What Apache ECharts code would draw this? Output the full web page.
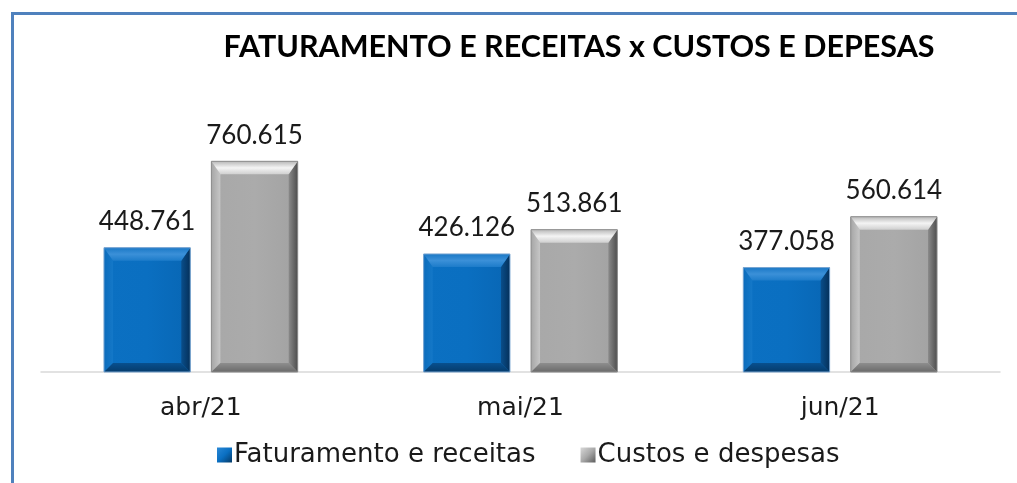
<!DOCTYPE html>
<html>
<head>
<meta charset="utf-8">
<script src="https://cdn.jsdelivr.net/npm/echarts@6/dist/echarts.min.js"></script>
<style>
  html, body { margin: 0; padding: 0; background: #fff; }
  #chart { width: 1017px; height: 483px; }
</style>
</head>
<body>
<div id="chart"></div>
<script>
// dados do gráfico
const meses = ['abr/21', 'mai/21', 'jun/21'];
const faturamento = [448761, 426126, 377058];
const custos = [760615, 513861, 560614];
const nomesSeries = ['Faturamento e receitas', 'Custos e despesas'];

const FONT = 'Lato';
const FONT_LARGA = 'DejaVu Sans';

const lin = (x0, y0, x1, y1, stops) =>
  new echarts.graphic.LinearGradient(x0, y0, x1, y1, stops.map((c, k) => ({ offset: k / (stops.length - 1), color: c })));

// cores do efeito chanfrado
const paletas = [
  {
    face: lin(0, 0, 1, 0, ['#0b70c2', '#0a6fc1', '#0866b4']),
    top: lin(0, 0, 0, 1, ['#1a78c6', '#3b90d8', '#1d7cca']),
    left: lin(0, 0, 1, 0, ['#0b6cbc', '#1478c8']),
    right: lin(0, 0, 1, 0, ['#0a4e8a', '#04305a']),
    bottom: lin(0, 0, 0, 1, ['#08508f', '#053b6b']),
    stroke: '#7aa6d2'
  },
  {
    face: lin(0, 0, 1, 0, ['#a8a8a8', '#ababab', '#a2a2a2']),
    top: lin(0, 0, 0, 1, ['#b8b8b8', '#f4f4f4', '#cfcfcf']),
    left: lin(0, 0, 1, 0, ['#a6a6a6', '#c6c6c6']),
    right: lin(0, 0, 1, 0, ['#8a8a8a', '#4e4e4e']),
    bottom: lin(0, 0, 0, 1, ['#8e8e8e', '#6a6a6a']),
    stroke: '#8c8c8c'
  }
];

function fmt(v) {
  return String(v).replace(/\B(?=(\d{3})+(?!\d))/g, '.');
}

function renderBar(params, api) {
  const i = api.value(0);
  const v = api.value(1);
  const band = api.size([1, 0])[0];
  const w = band * 0.27;
  const g = band * 0.066;
  const base = api.coord([i, 0]);
  const top = api.coord([i, v]);
  const x0 = params.seriesIndex === 0 ? base[0] - g / 2 - w : base[0] + g / 2;
  const x1 = x0 + w;
  const y0 = top[1];
  const y1 = base[1];
  const b = 9, bt = 13;
  const p = paletas[params.seriesIndex];
  const poly = (pts, fill) => ({ type: 'polygon', shape: { points: pts }, style: { fill: fill } });
  return {
    type: 'group',
    children: [
      { type: 'rect', shape: { x: x0, y: y0, width: w, height: y1 - y0 }, style: { fill: p.face } },
      poly([[x0, y0], [x0 + b, y0 + bt], [x0 + b, y1 - b], [x0, y1]], p.left),
      poly([[x1, y0], [x1, y1], [x1 - b, y1 - b], [x1 - b, y0 + bt]], p.right),
      poly([[x0, y1], [x0 + b, y1 - b], [x1 - b, y1 - b], [x1, y1]], p.bottom),
      poly([[x0, y0], [x1, y0], [x1 - b, y0 + bt], [x0 + b, y0 + bt]], p.top),
      { type: 'rect', shape: { x: x0, y: y0, width: w, height: y1 - y0 }, style: { fill: 'none', stroke: p.stroke, lineWidth: 1 } },
      {
        type: 'text',
        style: {
          text: fmt(v), x: (x0 + x1) / 2, y: y0 - 13,
          align: 'center', verticalAlign: 'bottom',
          font: '26px ' + FONT, fill: '#1a1a1a'
        }
      }
    ]
  };
}

const chart = echarts.init(document.getElementById('chart'));
chart.setOption({
  animation: false,
  title: {
    text: 'FATURAMENTO E RECEITAS x CUSTOS E DEPESAS',
    left: 574, top: 27, textAlign: 'center',
    textStyle: { fontFamily: FONT, fontWeight: 'bold', fontSize: 30.5, color: '#000' }
  },
  graphic: [{
    type: 'rect', left: 10, top: 11, silent: true,
    shape: { width: 1100, height: 600 },
    style: { fill: 'none', stroke: '#4f81bd', lineWidth: 3 }
  }],
  legend: {
    left: 212, top: 437,
    itemWidth: 15, itemHeight: 15, itemGap: 45,
    textStyle: { fontFamily: FONT_LARGA, fontSize: 26, color: '#1a1a1a', padding: [0, 0, 0, -3] },
    data: [
      { name: nomesSeries[0], icon: 'rect', itemStyle: { color: lin(0, 0, 1, 1, ['#2a88d6', '#0a6fc2', '#053a66']) } },
      { name: nomesSeries[1], icon: 'rect', itemStyle: { color: lin(0, 0, 1, 1, ['#d8d8d8', '#a9a9a9', '#5c5c5c']) } }
    ]
  },
  grid: { left: 41, right: 17, top: 95, bottom: 111 },
  xAxis: {
    type: 'category',
    data: meses,
    axisLine: { lineStyle: { color: '#d9d9d9', width: 1.5 } },
    axisTick: { show: false },
    axisLabel: { fontFamily: FONT_LARGA, fontSize: 25, color: '#1a1a1a', margin: 24 }
  },
  yAxis: { type: 'value', min: 0, max: 1000000, show: false, splitLine: { show: false } },
  series: [
    { name: nomesSeries[0], type: 'custom', renderItem: renderBar, itemStyle: { color: '#0a6fc2' }, data: faturamento.map((v, i) => [i, v]) },
    { name: nomesSeries[1], type: 'custom', renderItem: renderBar, itemStyle: { color: '#a9a9a9' }, data: custos.map((v, i) => [i, v]) }
  ]
});
</script>
</body>
</html>
